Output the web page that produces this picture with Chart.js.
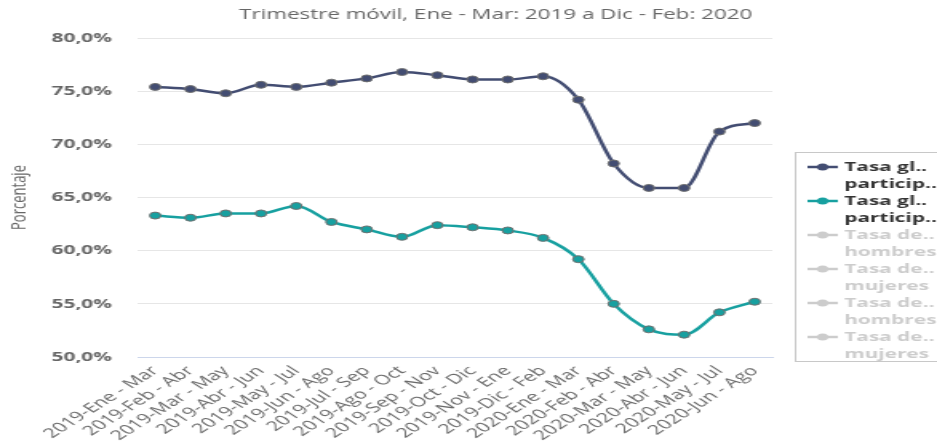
<!DOCTYPE html>
<html><head><meta charset="utf-8">
<script src="https://cdn.jsdelivr.net/npm/chart.js@4.4.1/dist/chart.umd.min.js"></script>
<style>
html,body{margin:0;padding:0;background:#fff;overflow:hidden;width:937px;height:444px;}
#wrap{position:absolute;left:0;top:0;width:586px;height:444px;transform:scaleX(1.599);transform-origin:0 0;}
</style></head><body>
<div id="wrap"><canvas id="c"></canvas></div>
<script>
const categories = ["2019-Ene - Mar","2019-Feb - Abr","2019-Mar - May","2019-Abr - Jun","2019-May - Jul","2019-Jun - Ago","2019-Jul - Sep","2019-Ago - Oct","2019-Sep - Nov","2019-Oct - Dic","2019-Nov - Ene","2019-Dic - Feb","2020-Ene - Mar","2020-Feb - Abr","2020-Mar - May","2020-Abr - Jun","2020-May - Jul","2020-Jun - Ago"];
const serieHombres = [75.4, 75.2, 74.8, 75.6, 75.4, 75.8, 76.2, 76.8, 76.5, 76.1, 76.1, 76.4, 74.2, 68.2, 65.9, 65.9, 71.2, 72.0];
const serieMujeres = [63.3, 63.1, 63.5, 63.5, 64.2, 62.7, 62.0, 61.3, 62.4, 62.2, 61.9, 61.2, 59.2, 55.0, 52.6, 52.1, 54.2, 55.2];
const yTicks = [50, 55, 60, 65, 70, 75, 80];
const legendNames = ["Tasa gl..\nparticip..", "Tasa gl..\nparticip..", "Tasa de..\nhombres", "Tasa de..\nmujeres", "Tasa de..\nhombres", "Tasa de..\nmujeres"];
const subtitleText = "Trimestre móvil, Ene - Mar: 2019 a Dic - Feb: 2020";
const yTitle = "Porcentaje";

const FONT = '"Open Sans", sans-serif';

const boxLegend = {
  id: 'boxLegend',
  afterDraw(chart) {
    const ctx = chart.ctx;
    ctx.save();
    // subtitle
    ctx.fillStyle = '#666666';
    ctx.font = '14px ' + FONT;
    ctx.textAlign = 'center';
    ctx.textBaseline = 'middle';
    ctx.fillText(subtitleText, 310, 15);
    // legend box
    ctx.strokeStyle = '#c8c8c8';
    ctx.lineWidth = 1;
    ctx.strokeRect(497.5, 152.5, 130, 209);
    chart.data.datasets.forEach((ds, i) => {
      const hidden = !chart.isDatasetVisible(i);
      const col = hidden ? '#cccccc' : ds.borderColor;
      const y0 = 167 + i * 34;
      ctx.strokeStyle = col;
      ctx.lineWidth = 2.5;
      ctx.beginPath(); ctx.moveTo(505, y0); ctx.lineTo(524, y0); ctx.stroke();
      ctx.fillStyle = col;
      ctx.beginPath(); ctx.arc(514.5, y0, 3.5, 0, Math.PI * 2); ctx.fill();
      ctx.fillStyle = hidden ? '#cccccc' : '#333333';
      ctx.font = 'bold 13px ' + FONT;
      ctx.textAlign = 'left';
      ctx.textBaseline = 'middle';
      ds.label.split('\n').forEach((t, k) => ctx.fillText(t, 528, y0 + k * 17));
    });
    ctx.restore();
  }
};

const hiddenColors = ['#90ed7d', '#f7a35c', '#8085e9', '#f15c80'];

const datasets = [
  { label: legendNames[0], data: serieHombres, borderColor: '#434d72', backgroundColor: '#434d72' },
  { label: legendNames[1], data: serieMujeres, borderColor: '#17a0a0', backgroundColor: '#17a0a0' }
].map(d => Object.assign(d, {
  borderWidth: 2.5, cubicInterpolationMode: 'monotone', fill: false,
  pointRadius: 3.5, pointBorderWidth: 1, pointBorderColor: '#707070',
  pointBackgroundColor: d.borderColor
}));
for (let k = 2; k < 6; k++) {
  datasets.push({ label: legendNames[k], data: [], hidden: true, borderColor: hiddenColors[k - 2], backgroundColor: hiddenColors[k - 2] });
}

new Chart(document.getElementById('c'), {
  type: 'line',
  data: { labels: categories, datasets },
  plugins: [boxLegend],
  options: {
    responsive: true, maintainAspectRatio: false, animation: false,
    layout: { padding: { top: 38, right: 103, bottom: 0, left: 0 } },
    plugins: { legend: { display: false }, title: { display: false }, tooltip: { enabled: false } },
    scales: {
      x: {
        offset: true,
        grid: { display: false, drawTicks: false, offset: true },
        border: { display: true, color: '#ccd6eb', width: 1 },
        ticks: { minRotation: 45, maxRotation: 45, autoSkip: false, color: '#6a6a6a', font: { family: FONT, size: 13.5 }, padding: 6 },
        afterFit(s) { s.height = 87; }
      },
      y: {
        min: 50, max: 80,
        afterBuildTicks(s) { s.ticks = yTicks.map(v => ({ value: v })); },
        grid: { color: '#e6e6e6', drawTicks: false },
        border: { display: false },
        ticks: { color: '#666666', font: { family: FONT, size: 13, weight: 'bold' }, padding: 16,
                 callback: v => v.toFixed(1).replace('.', ',') + '%' },
        title: { display: true, text: yTitle, color: '#666666', font: { family: FONT, size: 13 }, padding: { top: 4, bottom: 4 } },
        afterFit(s) { s.width = 86; }
      }
    }
  }
});
</script>
</body></html>
